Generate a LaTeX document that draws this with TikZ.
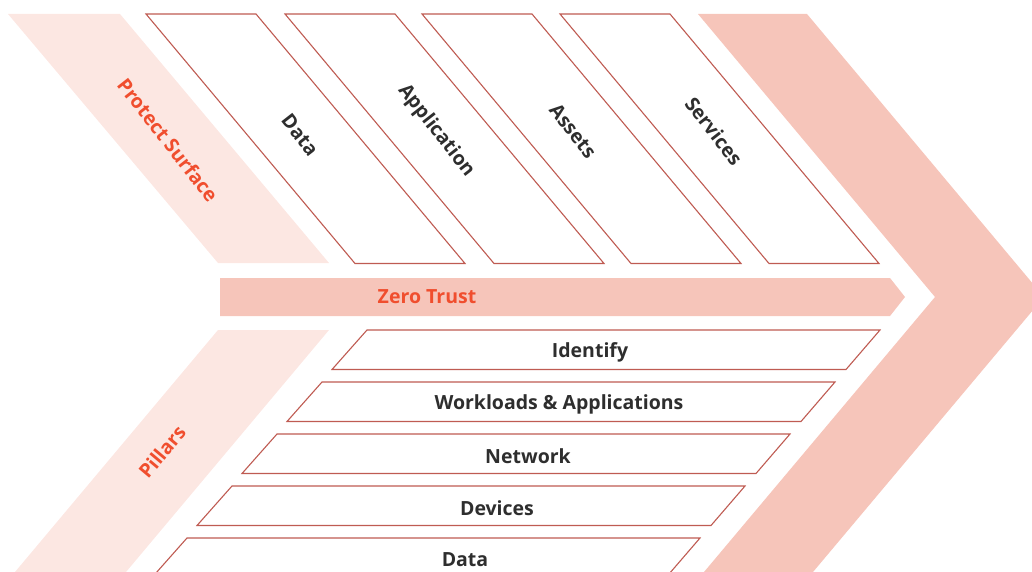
\documentclass[tikz,border=0pt]{standalone}
\usepackage{fontspec}
\setmainfont{Open Sans}
\definecolor{chev}{HTML}{F6C5BA}
\definecolor{band}{HTML}{FCE7E2}
\definecolor{edge}{HTML}{BF5B52}
\definecolor{accent}{HTML}{F04E2E}
\definecolor{ink}{HTML}{2E2E2E}
\begin{document}
\begin{tikzpicture}[x=1pt,y=-1pt,
  box/.style={draw=edge, line width=1.1pt, fill=white},
  lbl/.style={font=\bfseries\fontsize{19.5}{22}\selectfont, text=ink, inner sep=0pt},
  acc/.style={font=\bfseries\fontsize{19.5}{22}\selectfont, text=accent, inner sep=0pt}]
\useasboundingbox (0,0) rectangle (1032,572);
\clip (0,0) rectangle (1032,572);
% big chevron
\fill[chev] (698,14) -- (807,14) -- (1044,297) -- (813,572) -- (704,572) -- (935,297) -- cycle;
% protect surface band
\fill[band] (8,14) -- (120,14) -- (329,263) -- (218,263) -- cycle;
% pillars band
\fill[band] (218,330) -- (329,330) -- (126,572) -- (15,572) -- cycle;
% zero trust bar
\fill[chev] (220,278) -- (890,278) -- (905,297) -- (890,316) -- (220,316) -- cycle;
\node[acc] (zt) at (427,297) {Zero Trust};
% top boxes
\foreach \x [count=\i] in {146,285,422,560}{
  \draw[box] (\x,14) -- (\x+110,14) -- (\x+319,263.5) -- (\x+209,263.5) -- cycle;
}
\node[lbl, rotate=-52] (t1) at (300,135) {Data};
\node[lbl, rotate=-52] (t2) at (436,131) {Application};
\node[lbl, rotate=-52] (t3) at (573,131) {Assets};
\node[lbl, rotate=-52] (t4) at (714,131) {Services};
\node[acc, rotate=-52] (ps) at (168,140) {Protect Surface};
\node[acc, rotate=50] (pl) at (162,452) {Pillars};
% lower boxes
\foreach \i in {0,...,4}{
  \draw[box] (367-45*\i,330+52*\i) -- (880-45*\i,330+52*\i) -- (846-45*\i,369.5+52*\i) -- (332-45*\i,369.5+52*\i) -- cycle;
}
\node[lbl] (b1) at (590,352) {Identify};
\node[lbl] (b2) at (559,404) {Workloads \& Applications};
\node[lbl] (b3) at (528,456) {Network};
\node[lbl] (b4) at (497,508) {Devices};
\node[lbl] (b5) at (465,560) {Data};
\end{tikzpicture}
\end{document}
